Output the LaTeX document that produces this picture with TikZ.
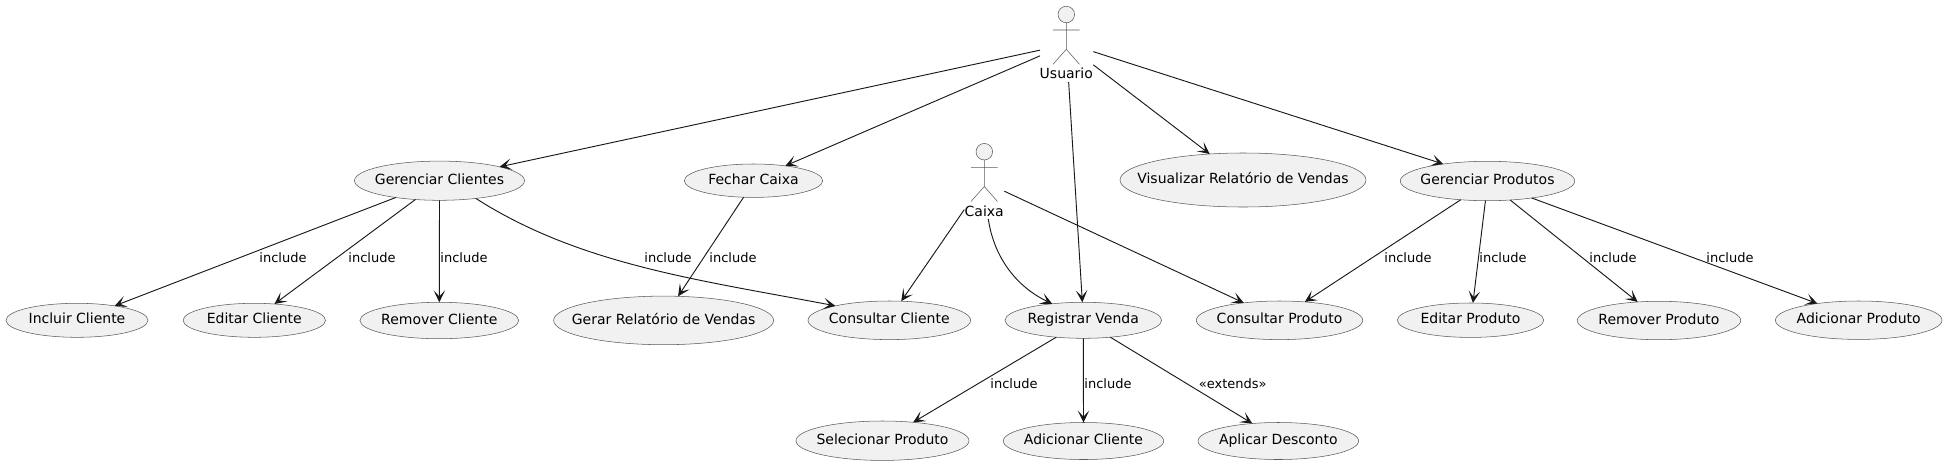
\documentclass[tikz,border=0pt]{standalone}
\usepackage{fontspec}
\setmainfont{DejaVu Sans}
\usetikzlibrary{shapes.geometric,arrows.meta}
\definecolor{ink}{HTML}{181818}
\definecolor{thinink}{HTML}{5A5A5A}
\definecolor{ucfill}{HTML}{F1F1F1}
\newcommand{\uct}[1]{\makebox[0pt][c]{#1}}
\tikzset{
  x=0.75pt,y=-0.75pt,
  usecase/.style 2 args={ellipse,draw=thinink,line width=0.4pt,fill=ucfill,inner sep=0pt,outer sep=0pt,
    minimum width=#1*1.5pt,minimum height=#2*1.5pt,font=\fontsize{10.5pt}{12pt}\selectfont,
    text=black,text height=7.98pt,text depth=2.52pt},
  actorbox/.style 2 args={rectangle,inner sep=0pt,outer sep=0pt,minimum width=#1*0.75pt,minimum height=#2*0.75pt},
  actorname/.style={anchor=base,inner sep=0pt,font=\fontsize{10.5pt}{12pt}\selectfont,text=black},
  actorline/.style={draw=thinink,line width=0.4pt},
  actorhead/.style={actorline,fill=ucfill},
  link/.style={draw=ink,line width=0.7pt,-{Stealth[length=9pt,width=8.6pt,inset=4.6pt]}},
  linklabel/.style={anchor=base,inner sep=0pt,font=\fontsize{9.75pt}{11pt}\selectfont,text=black},
}
\begin{document}
\begin{tikzpicture}
\useasboundingbox (0,0) rectangle (1946,465);
% actors
\node[actorbox={53.3}{76}] (usuario) at (1066.65,44) {};
\draw[actorhead] (1066.3,14.5) circle[radius=6.2pt];
\draw[actorline] (1066.3,22.8) -- (1066.3,49.3) (1053,30) -- (1079.5,30)
  (1053,64.3) -- (1066.3,49.3) -- (1079.5,64.3);
\node[actorname] (usuarioname) at (1066.3,78) {Usuario};
\node[actorbox={40}{76}] (caixa) at (984.3,181) {};
\draw[actorhead] (984.3,151.7) circle[radius=6.2pt];
\draw[actorline] (984.3,160) -- (984.3,186.5) (971,167.3) -- (997.5,167.3)
  (971,201.5) -- (984.3,186.5) -- (997.5,201.5);
\node[actorname] (caixaname) at (984.2,216.3) {Caixa};
% use cases
\node[usecase={85}{19.6}] (gc) at (439.5,180.7) {\uct{Gerenciar Clientes}};
\node[usecase={69.2}{16.7}] (fechar) at (753.5,180.7) {\uct{Fechar Caixa}};
\node[usecase={123}{27}] (vis) at (1243,180) {\uct{Visualizar Relatório de Vendas}};
\node[usecase={87.2}{19.7}] (gp) at (1487.5,181) {\uct{Gerenciar Produtos}};
\node[usecase={71}{17}] (incluir) at (77,320.3) {\uct{Incluir Cliente}};
\node[usecase={71.2}{17}] (editar) at (254.3,320.3) {\uct{Editar Cliente}};
\node[usecase={79.4}{18.2}] (remover) at (439.3,320.5) {\uct{Remover Cliente}};
\node[usecase={110}{24.3}] (gerar) at (663.6,320.4) {\uct{Gerar Relatório de Vendas}};
\node[usecase={81.3}{19.3}] (cc) at (889.3,320.3) {\uct{Consultar Cliente}};
\node[usecase={78.3}{18}] (rv) at (1083.3,320.3) {\uct{Registrar Venda}};
\node[usecase={83.2}{19.3}] (cp) at (1279.5,320.3) {\uct{Consultar Produto}};
\node[usecase={73.2}{17.2}] (editarp) at (1470.5,320.2) {\uct{Editar Produto}};
\node[usecase={81.7}{19.2}] (removerp) at (1659,320.5) {\uct{Remover Produto}};
\node[usecase={83.3}{19.2}] (adicp) at (1858.7,320.2) {\uct{Adicionar Produto}};
\node[usecase={86.5}{19.7}] (selec) at (882.5,440.7) {\uct{Selecionar Produto}};
\node[usecase={80.2}{18.5}] (adicc) at (1083.5,441) {\uct{Adicionar Cliente}};
\node[usecase={80.3}{18.5}] (aplicar) at (1278.3,441) {\uct{Aplicar Desconto}};
% connectors
\draw[link] (usuario.193.3) -- (gc.13.1);
\draw[link] (usuario.204.2) -- (fechar.25);
\draw[link] (usuario.-87.5) -- (rv.93.2);
\draw[link] (usuario.-38.2) -- (vis.142.9);
\draw[link] (usuario.-16.7) -- (gp.159);
\draw[link] (caixa.235.4) -- (cc.58.5);
\draw[link] (caixa.-84) .. controls (994,258) and (1017,287) .. (rv.152.7);
\draw[link] (caixa.-27.2) -- (cp.154.4);
\draw[link] (gc.201.8) -- (incluir.21.8);
\draw[link] (gc.218.1) -- (editar.39.7);
\draw[link] (gc.-90) -- (remover.90);
\draw[link] (gc.-26.6) .. controls (580,265) and (700,280) .. (cc.165.1);
\draw[link] (fechar.239.4) -- (gerar.59.2);
\draw[link] (gp.215) -- (cp.36.1);
\draw[link] (gp.264.8) -- (editarp.82.6);
\draw[link] (gp.-40.2) -- (removerp.139.5);
\draw[link] (gp.-21.1) -- (adicp.158.6);
\draw[link] (rv.212.6) -- (selec.31.7);
\draw[link] (rv.-90) -- (adicc.90);
\draw[link] (rv.-32) -- (aplicar.146.4);
% connector labels
\node[linklabel] (l1) at (283,262.6) {include};
\node[linklabel] (l2) at (372,262.6) {include};
\node[linklabel] (l3) at (464,262.6) {include};
\node[linklabel] (l4) at (668,262.6) {include};
\node[linklabel] (l5) at (733,262.6) {include};
\node[linklabel] (l6) at (1408,262.6) {include};
\node[linklabel] (l7) at (1503,262.6) {include};
\node[linklabel] (l8) at (1613,262.6) {include};
\node[linklabel] (l9) at (1730,262.6) {include};
\node[linklabel] (l10) at (1014,388.6) {include};
\node[linklabel] (l11) at (1108,388.6) {include};
\node[linklabel] (l12) at (1232.7,388.6) {«extends»};
\end{tikzpicture}
\end{document}
